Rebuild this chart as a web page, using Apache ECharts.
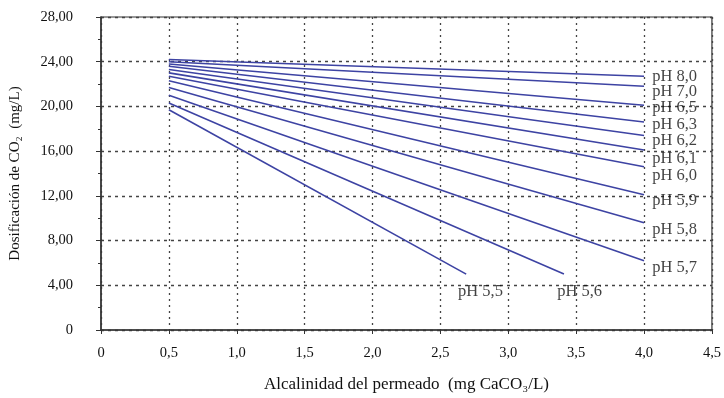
<!DOCTYPE html>
<html>
<head>
<meta charset="utf-8">
<script src="https://cdn.jsdelivr.net/npm/echarts@6/dist/echarts.min.js"></script>
<style>html,body{margin:0;padding:0;background:#fff;}#c{width:724px;height:398px;}</style>
</head>
<body>
<div id="c"></div>
<script>
// Series names (pH curves)
const seriesNames = ['pH 8,0','pH 7,0','pH 6,5','pH 6,3','pH 6,2','pH 6,1','pH 6,0','pH 5,9','pH 5,8','pH 5,7','pH 5,6','pH 5,5'];
// Alkalinity at start and end of each line (mg CaCO3/L)
const xStart = [0.5,0.5,0.5,0.5,0.5,0.5,0.5,0.5,0.5,0.5,0.5,0.5];
const xEnd   = [4.0,4.0,4.0,4.0,4.0,4.0,4.0,4.0,4.0,4.0,3.41,2.69];
// CO2 dosage at start and end (mg/L)
const yStart = [24.2,24.0,23.8,23.6,23.3,23.0,22.7,22.3,21.7,21.0,20.3,19.7];
const yEnd   = [22.7,21.8,20.1,18.6,17.4,16.1,14.6,12.1,9.6,6.2,5.0,5.0];
// Label anchor points (data units)
const labelX = [4.06,4.06,4.06,4.06,4.06,4.06,4.06,4.06,4.06,4.06,3.36,2.63];
const labelY = [22.7,21.3,19.9,18.4,16.9,15.3,13.8,11.6,9.0,5.6,3.4,3.4];
// Axis ticks
const xTicks = [0,0.5,1.0,1.5,2.0,2.5,3.0,3.5,4.0,4.5];
const yTicks = [0,4,8,12,16,20,24,28];

const serif = 'Liberation Serif';
const axisColor = '#333';
const lineColor = '#3d43a3';
const textColor = '#111';

const fmtX = v => (v === 0 ? '0' : v.toFixed(1).replace('.', ','));
const fmtY = v => (v === 0 ? '0' : v.toFixed(2).replace('.', ','));

const series = seriesNames.map((n, i) => ({
  type: 'line',
  name: n,
  data: [[xStart[i], yStart[i]], [xEnd[i], yEnd[i]]],
  symbol: 'none',
  lineStyle: { color: lineColor, width: 1.6 },
  silent: true,
  z: 3
}));
series.push({
  type: 'scatter',
  data: seriesNames.map((n, i) => ({ value: [labelX[i], labelY[i]], name: n })),
  symbolSize: 0,
  silent: true,
  label: {
    show: true,
    position: 'right',
    distance: 0,
    formatter: p => p.name,
    fontFamily: serif,
    fontSize: 16.5,
    color: textColor
  },
  z: 4
});

const chart = echarts.init(document.getElementById('c'), null, { renderer: 'canvas' });
chart.setOption({
  animation: false,
  backgroundColor: '#fff',
  grid: { left: 101, right: 8, top: 17, bottom: 67, show: true, borderColor: axisColor, borderWidth: 1.2 },
  xAxis: {
    type: 'value', min: 0, max: 4.5, interval: 0.5,
    name: 'Alcalinidad del permeado  (mg CaCO₃/L)',
    nameLocation: 'middle', nameGap: 46,
    nameTextStyle: { fontFamily: serif, fontSize: 17, color: textColor },
    axisLine: { show: true, lineStyle: { color: axisColor, width: 1.5 } },
    axisTick: { show: true, length: 4, lineStyle: { color: axisColor } },
    axisLabel: { formatter: fmtX, fontFamily: serif, fontSize: 14.5, color: textColor, margin: 16,
      customValues: xTicks },
    splitLine: { show: true, lineStyle: { color: '#444', type: [2, 4], width: 1.3 } }
  },
  yAxis: {
    type: 'value', min: 0, max: 28, interval: 4,
    name: 'Dosificación de CO₂  (mg/L)',
    nameLocation: 'middle', nameGap: 78,
    nameTextStyle: { fontFamily: serif, fontSize: 15, color: textColor },
    axisLine: { show: true, lineStyle: { color: axisColor, width: 1.5 } },
    axisTick: { show: true, length: 5, lineStyle: { color: axisColor } },
    minorTick: { show: true, splitNumber: 2, length: 3, lineStyle: { color: axisColor } },
    axisLabel: { formatter: fmtY, fontFamily: serif, fontSize: 14.5, color: textColor, margin: 28,
      customValues: yTicks },
    splitLine: { show: true, lineStyle: { color: '#444', type: [3, 4], width: 1.3 } }
  },
  series: series
});
</script>
</body>
</html>
